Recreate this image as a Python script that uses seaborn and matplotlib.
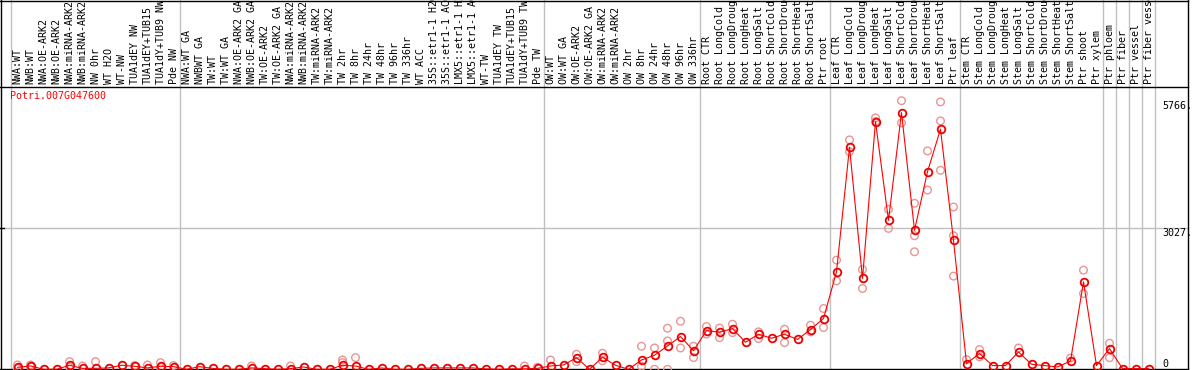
import numpy as np
import pandas as pd
import matplotlib
matplotlib.use("Agg")
import matplotlib.pyplot as plt
import seaborn as sns

gene = "Potri.007G047600"

labels = [
    "NWA:WT", "NWB:WT", "NWA:OE-ARK2", "NWB:OE-ARK2", "NWA:miRNA-ARK2", "NWB:miRNA-ARK2",
    "NW 0hr", "WT H2O", "WT-NW", "TUA1dEY NW", "TUA1dEY+TUB15", "TUA1dY+TUB9 NW", "Pde NW",
    "NWA:WT GA", "NWBWT GA", "TW:WT", "TW:WT GA", "NWA:OE-ARK2 GA", "NWB:OE-ARK2 GA",
    "TW:OE-ARK2", "TW:OE-ARK2 GA", "NWA:miRNA-ARK2", "NWB:miRNA-ARK2", "TW:miRNA-ARK2",
    "TW:miRNA-ARK2", "TW 2hr", "TW 8hr", "TW 24hr", "TW 48hr", "TW 96hr", "TW 336hr",
    "WT ACC", "35S::etr1-1 H2O", "35S::etr1-1 ACC", "LMX5::etr1-1 H2O", "LMX5::etr1-1 ACC",
    "WT-TW", "TUA1dEY TW", "TUA1dEY+TUB15", "TUA1dY+TUB9 TW", "Pde TW",
    "OW:WT", "OW:WT GA", "OW:OE-ARK2", "OW:OE-ARK2 GA", "OW:miRNA-ARK2", "OW:miRNA-ARK2",
    "OW 2hr", "OW 8hr", "OW 24hr", "OW 48hr", "OW 96hr", "OW 336hr",
    "Root CTR", "Root LongCold", "Root LongDrought", "Root LongHeat", "Root LongSalt",
    "Root ShortCold", "Root ShortDrought", "Root ShortHeat", "Root ShortSalt", "Ptr root",
    "Leaf CTR", "Leaf LongCold", "Leaf LongDrought", "Leaf LongHeat", "Leaf LongSalt",
    "Leaf ShortCold", "Leaf ShortDrought", "Leaf ShortHeat", "Leaf ShortSalt", "Ptr leaf",
    "Stem CTR", "Stem LongCold", "Stem LongDrought", "Stem LongHeat", "Stem LongSalt",
    "Stem ShortCold", "Stem ShortDrought", "Stem ShortHeat", "Stem ShortSalt", "Ptr shoot",
    "Ptr xylem", "Ptr phloem", "Ptr fiber", "Ptr vessel", "Ptr fiber vessel",
]

# samples per tissue block (grey separators between blocks)
group_sizes = [13, 28, 12, 10, 10, 11, 1, 1, 1, 1]

means = [
    43, 72, 0, 0, 86, 20, 20, 30, 86, 65, 30, 65, 57,
    0, 57, 20, 0, 0, 30, 14, 0, 14, 50, 0, 0, 86, 70, 0, 28, 0, 0,
    20, 30, 30, 30, 30, 10, 0, 10, 10, 20,
    71, 92, 250, 0, 258, 86, 0, 200, 301, 501, 702, 401,
    831, 796, 874, 581, 753, 667, 753, 640, 854, 1090,
    2092, 4768, 1950, 5318, 3198, 5512, 2983, 4243, 5155, 2768,
    123, 338, 80, 80, 372, 108, 80, 50, 178, 1877, 80,
    445, 15, 15, 15,
]

# individual replicates that stand out from the mean
replicates = {
    0: [93, 20], 1: [93, 60], 4: [165, 50], 5: [72], 6: [165], 9: [80], 10: [93],
    11: [143, 40], 12: [80], 18: [72], 21: [72], 25: [200, 143], 26: [251],
    39: [71], 40: [43], 41: [200], 43: [322, 163], 45: [344, 185], 48: [495, 65],
    49: [458, 0], 50: [882, 609, 0], 51: [1032, 458], 52: [495, 251],
    53: [917, 757], 54: [886, 680], 55: [968, 789], 57: [804, 660], 59: [860, 574],
    61: [946, 802], 62: [1305, 897], 63: [2344, 1899], 64: [4925, 4673],
    65: [2143, 1735], 66: [5398, 5318], 67: [3434, 3025], 68: [5766, 5290],
    69: [3563, 2867, 2523], 70: [4688, 3849], 71: [5740, 5333, 4272],
    72: [3484, 2868, 2000], 73: [209], 74: [424, 266], 77: [458], 81: [243],
    82: [2129, 1626], 84: [559, 249],
}

tick_values = [0, 3027, 5766]
tick_labels = ["0", "3027.", "5766."]

W, H = 1194, 370
px_per_unit = 141 / 3027.0
x0_px, step_px = 17.5, 13.0
base_px = 0.7  # baseline height above bottom edge


def px_x(p):
    return (p - x0_px) / step_px


def px_y(p_from_top):
    return (H - base_px - p_from_top) / px_per_unit


def draw():
    fig = plt.figure(figsize=(W / 100, H / 100), dpi=100)
    ax = fig.add_axes([0, 0, 1, 1])
    ax.set_xlim(px_x(0), px_x(W))
    ax.set_ylim(px_y(H), px_y(0))
    ax.axis("off")

    mono = "DejaVu Sans Mono"
    grey = "#c0c0c0"

    # grey block separators across the full height
    seps = [-0.5] + list(np.cumsum(group_sizes) - 0.5)
    for s in seps:
        ax.axvline(s, color=grey, lw=1, zorder=0)
    ax.plot([px_x(1), px_x(1188)], [3027, 3027], color=grey, lw=1, zorder=0)

    # frame
    k = dict(color="black", lw=1, zorder=1)
    ax.plot([px_x(1), px_x(1)], [px_y(H), px_y(0)], **k)
    ax.plot([px_x(1188), px_x(1188)], [px_y(H), px_y(0)], **k)
    ax.plot([px_x(0), px_x(1188)], [px_y(0.5), px_y(0.5)], **k)
    ax.plot([px_x(0), px_x(1188)], [px_y(87), px_y(87)], **k)
    ax.plot([px_x(0), px_x(1188)], [0, 0], **k)
    ax.plot([px_x(0), px_x(4)], [3027, 3027], **k)

    idx = np.arange(len(labels))
    for i, lab in enumerate(labels):
        ax.text(i, px_y(84), lab, rotation=90, ha="center", va="bottom",
                family=mono, fontsize=7.2, color="black")

    rep = pd.DataFrame([(i, v) for i, vals in replicates.items() for v in vals],
                       columns=["sample", "value"])
    sns.scatterplot(data=rep, x="sample", y="value", ax=ax, marker="o", s=30,
                    facecolor="none", edgecolor="#eb9494", linewidth=1.0,
                    zorder=2, clip_on=False)

    df = pd.DataFrame({"sample": idx, "value": means})
    sns.lineplot(data=df, x="sample", y="value", ax=ax, color="red", linewidth=0.8,
                 marker="o", markersize=5.5, markerfacecolor="none",
                 markeredgecolor="#ee0000", markeredgewidth=1.3, zorder=3)

    ax.text(px_x(10), px_y(91), gene, color="red", family=mono, fontsize=7.2,
            ha="left", va="top")

    for v, t in zip(tick_values, tick_labels):
        ax.text(px_x(1162), v, t, family=mono, fontsize=7.2, ha="left",
                va="bottom" if v == 0 else "top")

    ax.set_xlabel("")
    ax.set_ylabel("")
    fig.savefig("out.png", dpi=100)
    plt.close(fig)


if __name__ == "__main__":
    draw()
